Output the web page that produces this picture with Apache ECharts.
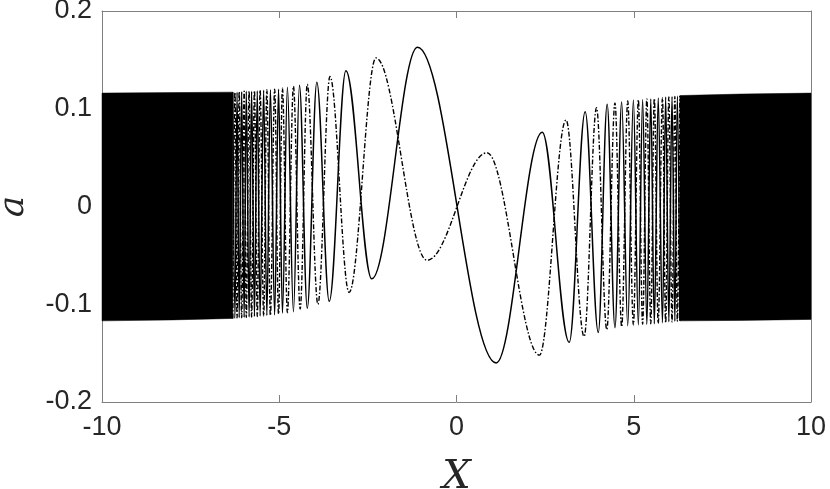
<!DOCTYPE html>
<html>
<head>
<meta charset="utf-8">
<script src="https://cdn.jsdelivr.net/npm/echarts@6/dist/echarts.min.js"></script>
<style>
  html, body { margin: 0; padding: 0; background: #fff; }
  #chart { width: 830px; height: 489px; }
</style>
</head>
<body>
<div id="chart"></div>
<script>
// tick values
const xTicks = [-10, -5, 0, 5, 10]
const yTicks = [-0.2, -0.1, 0, 0.1, 0.2]

// solid curve: turning points
const solidX = [-6.31, -6.25, -6.19, -6.13, -6.06, -5.99, -5.93, -5.85, -5.78, -5.70, -5.62, -5.54, -5.44, -5.35, -5.25, -5.13, -5.02, -4.91, -4.77, -4.60, -4.43, -4.21, -3.94, -3.59, -3.12, -2.39, -1.10,
  1.12, 2.42, 3.18, 3.63, 4.00, 4.25, 4.47, 4.66, 4.83, 4.99, 5.13, 5.25, 5.37, 5.48, 5.58, 5.69, 5.81, 5.90, 5.99, 6.08, 6.16, 6.23, 6.30]
const solidY = [0.117, -0.1145, 0.117, -0.1138, 0.1175, -0.1135, 0.118, -0.113, 0.118, -0.1125, 0.1185, -0.112, 0.119, -0.1115, 0.1195, -0.111, 0.120, -0.109, 0.122, -0.1076, 0.124, -0.104, 0.127, -0.097, 0.139, -0.074, 0.163,
  -0.160, 0.076, -0.139, 0.097, -0.129, 0.1045, -0.124, 0.107, -0.122, 0.109, -0.121, 0.1095, -0.1205, 0.110, -0.120, 0.111, -0.119, 0.112, -0.118, 0.1125, -0.1175, 0.113, -0.117]

// dash-dot curve: turning points
const dashX = [-6.31, -6.25, -6.19, -6.13, -6.06, -5.99, -5.93, -5.85, -5.78, -5.70, -5.62, -5.54, -5.44, -5.35, -5.25, -5.13, -5.02, -4.91, -4.77, -4.60, -4.41, -4.21, -3.91, -3.57, -3.03, -2.27, -0.83,
  0.86, 2.34, 3.09, 3.60, 3.95, 4.24, 4.47, 4.66, 4.83, 4.99, 5.13, 5.25, 5.37, 5.48, 5.58, 5.69, 5.81, 5.90, 5.99, 6.08, 6.16, 6.23, 6.30]
const dashY = [-0.1145, 0.117, -0.114, 0.1175, -0.1138, 0.118, -0.1135, 0.118, -0.113, 0.1185, -0.1125, 0.119, -0.112, 0.1195, -0.1115, 0.120, -0.110, 0.121, -0.1086, 0.123, -0.105, 0.125, -0.100, 0.133, -0.088, 0.152, -0.055,
  0.055, -0.152, 0.0885, -0.133, 0.101, -0.126, 0.106, -0.123, 0.108, -0.121, 0.109, -0.1205, 0.110, -0.120, 0.1105, -0.1195, 0.111, -0.119, 0.112, -0.118, 0.1125, -0.1175, 0.113]

// too dense to resolve: outline of the solid black band at each end
const bandLeftX = [-10, -8, -6.31]
const bandLeftTop = [0.116, 0.1165, 0.117]
const bandLeftBottom = [-0.117, -0.116, -0.1145]
const bandRightX = [6.30, 8, 10]
const bandRightTop = [0.1135, 0.115, 0.116]
const bandRightBottom = [-0.117, -0.1165, -0.1155]

const zip = (xs, ys) => xs.map((x, i) => [x, ys[i]])

// one filled polygon: along the top edge, back along the bottom edge
const bandSeries = (xs, top, bottom) => {
  const outline = zip(xs, top).concat(zip(xs, bottom).reverse())
  return {
    type: 'custom',
    silent: true,
    data: outline,
    encode: { x: 0, y: 1 },
    renderItem(params, api) {
      if (params.dataIndex !== 0) return null
      return {
        type: 'polygon',
        shape: { points: outline.map(p => api.coord(p)) },
        style: { fill: '#000', stroke: '#000', lineWidth: 0.5 },
      }
    },
  }
}

const chart = echarts.init(document.getElementById('chart'))
const labelFont = { fontFamily: 'Liberation Sans, Arial, sans-serif', fontSize: 27, color: '#262626' }
const axisGray = '#808080'

const option = {
  animation: false,
  grid: { left: 102, right: 19, top: 11, bottom: 87, containLabel: false, outerBoundsMode: 'none' },
  xAxis: [
    {
      type: 'value', min: -10, max: 10, interval: 5,
      name: 'X', nameLocation: 'middle', nameGap: 56,
      nameTextStyle: { fontFamily: 'DejaVu Serif, serif', fontStyle: 'italic', fontSize: 40, color: '#262626' },
      axisLine: { show: true, onZero: false, lineStyle: { color: axisGray, width: 1 } },
      axisTick: { show: true, inside: true, length: 7, lineStyle: { color: axisGray } },
      axisLabel: { ...labelFont, margin: 12, formatter: v => xTicks.includes(v) ? String(v) : '' },
      splitLine: { show: false },
    },
    {
      type: 'value', min: -10, max: 10, interval: 5, position: 'top',
      axisLine: { show: true, onZero: false, lineStyle: { color: axisGray, width: 1 } },
      axisTick: { show: true, inside: true, length: 7, lineStyle: { color: axisGray } },
      axisLabel: { show: false },
      splitLine: { show: false },
    },
  ],
  yAxis: [
    {
      type: 'value', min: -0.2, max: 0.2, interval: 0.1,
      name: 'a', nameLocation: 'middle', nameGap: 70, nameRotate: 90,
      nameTextStyle: { fontFamily: 'DejaVu Serif, serif', fontStyle: 'italic', fontSize: 36, color: '#262626' },
      axisLine: { show: true, onZero: false, lineStyle: { color: axisGray, width: 1 } },
      axisTick: { show: true, inside: true, length: 7, lineStyle: { color: axisGray } },
      axisLabel: {
        ...labelFont, margin: 10,
        formatter: v => {
          const t = yTicks.find(k => Math.abs(k - v) < 1e-9)
          return t === undefined ? '' : (t === 0 ? '0' : String(t))
        },
      },
      splitLine: { show: false },
    },
    {
      type: 'value', min: -0.2, max: 0.2, interval: 0.1, position: 'right',
      axisLine: { show: true, onZero: false, lineStyle: { color: axisGray, width: 1 } },
      axisTick: { show: true, inside: true, length: 7, lineStyle: { color: axisGray } },
      axisLabel: { show: false },
      splitLine: { show: false },
    },
  ],
  series: [
    bandSeries(bandLeftX, bandLeftTop, bandLeftBottom),
    bandSeries(bandRightX, bandRightTop, bandRightBottom),
    {
      type: 'line',
      data: zip(dashX, dashY),
      showSymbol: false,
      smooth: 0.36,
      smoothMonotone: 'x',
      lineStyle: { color: '#000', width: 1.4, type: [5, 2, 1.5, 2] },
    },
    {
      type: 'line',
      data: zip(solidX, solidY),
      showSymbol: false,
      smooth: 0.36,
      smoothMonotone: 'x',
      lineStyle: { color: '#000', width: 1.5 },
    },
  ],
}
chart.setOption(option)
</script>
</body>
</html>
